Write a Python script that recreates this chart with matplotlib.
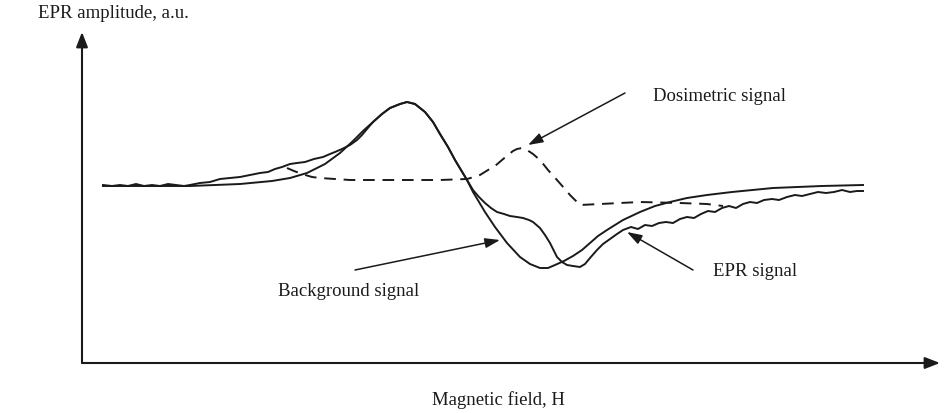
import matplotlib
matplotlib.use("Agg")
import matplotlib.pyplot as plt

# Magnetic field (a.u.) and amplitude (a.u.)
bg_field = [21, 68, 108, 158, 190, 208, 225, 243, 258, 271, 281, 291, 300, 308, 318, 325,
            333, 343, 351, 358, 366, 373, 379, 385, 391, 397, 403, 413, 425, 438, 448, 458,
            466, 473, 482, 491, 500, 508, 516, 525, 541, 558, 573, 588, 605, 625, 650, 691,
            740, 781]
bg_amp = [177, 177, 177, 179, 182, 185, 190, 199, 210, 222, 232, 241, 249, 255, 259, 261,
          259, 251, 241, 229, 216, 203, 193, 183, 171, 161, 151, 136, 120, 106, 99, 95,
          95, 98, 102, 107, 113, 120, 127, 133, 143, 151, 157, 161, 165, 168, 171, 175,
          177, 178]

epr_field = [21, 30, 38, 46, 54, 62, 70, 78, 86, 94, 102, 108, 118, 128, 138, 148, 158, 168,
             178, 186, 193, 200, 208, 215, 223, 232, 241, 248, 253, 260, 268, 275, 280, 285,
             291, 300, 308, 318, 325, 333, 343, 351, 358, 366, 373, 379, 385, 391, 397, 403,
             409, 415, 422, 428, 435, 441, 447, 451, 458, 463, 468, 472, 475, 480, 485, 491,
             498, 503, 508, 515, 521, 528, 535, 541, 549, 556, 563, 570, 577, 584, 591, 598,
             605, 612, 619, 626, 633, 640, 647, 654, 661, 668, 675, 682, 690, 697, 705, 713,
             720, 728, 736, 744, 752, 760, 768, 775, 781]
epr_amp = [178, 177, 178, 177, 179, 177, 178, 177, 179, 178, 177, 178, 180, 181, 184, 185,
           186, 188, 190, 191, 194, 196, 199, 200, 201, 204, 206, 209, 211, 214, 218, 223,
           228, 234, 241, 249, 255, 259, 261, 259, 251, 241, 229, 216, 203, 193, 183, 173,
           166, 160, 155, 151, 149, 147, 146, 145, 143, 141, 135, 128, 120, 112, 106, 101,
           98, 97, 96, 99, 105, 113, 119, 124, 129, 133, 136, 134, 138, 137, 140, 141, 140,
           144, 146, 145, 149, 152, 151, 155, 157, 155, 159, 161, 160, 163, 164, 163, 166,
           168, 167, 169, 171, 170, 171, 173, 171, 172, 172]

dos_field = [205, 212, 220, 230, 238, 268, 318, 358, 385, 392, 398, 406, 413, 420, 426, 431,
             435, 440, 445, 451, 458, 466, 475, 482, 488, 494, 498, 518, 558, 598, 625, 641]
dos_amp = [195, 192, 189, 186, 185, 183, 183, 183, 184, 186, 188, 193, 197, 203, 208, 212,
           214, 215, 213, 209, 203, 193, 183, 175, 168, 162, 158, 159, 161, 160, 159, 157]

plt.rcParams['font.family'] = ['Liberation Serif', 'DejaVu Serif']

fig = plt.figure(figsize=(9.48, 4.13), dpi=100)
ax = fig.add_axes([82 / 948, 50 / 413, 858 / 948, 331 / 413])
ax.set_xlim(0, 858)
ax.set_ylim(0, 331)
for s in ax.spines.values():
    s.set_visible(False)
ax.set_xticks([])
ax.set_yticks([])

ink = '#1a1a1a'
ax.plot(bg_field, bg_amp, color=ink, lw=1.4, solid_joinstyle='round')
ax.plot(epr_field, epr_amp, color=ink, lw=1.4, solid_joinstyle='round')
ax.plot(dos_field, dos_amp, color=ink, lw=1.4, dashes=(6, 4))

# axis arrows
arrow_kw = dict(arrowstyle='-|>,head_length=0.9,head_width=0.35', color=ink, lw=1.5,
                shrinkA=0, shrinkB=0)
ax.annotate('', xy=(1.0, 0.0), xytext=(0.0, 0.0), xycoords='axes fraction',
            arrowprops=arrow_kw, annotation_clip=False)
ax.annotate('', xy=(0.0, 1.0), xytext=(0.0, 0.0), xycoords='axes fraction',
            arrowprops=arrow_kw, annotation_clip=False)

lab_kw = dict(arrowstyle='-|>,head_length=0.9,head_width=0.3', color=ink, lw=1.1,
              shrinkA=0, shrinkB=0)
ax.annotate('', xy=(446, 218), xytext=(543, 270), arrowprops=lab_kw)
ax.annotate('', xy=(418, 123), xytext=(273, 93), arrowprops=lab_kw)
ax.annotate('', xy=(545, 131), xytext=(611, 93), arrowprops=lab_kw)

fs = 13.5
ax.text(571, 266, 'Dosimetric signal', fontsize=fs, ha='left', va='center', color=ink)
ax.text(267, 71, 'Background signal', fontsize=fs, ha='center', va='center', color=ink)
ax.text(631, 91, 'EPR signal', fontsize=fs, ha='left', va='center', color=ink)

fig.text(113 / 948, 1 - 14 / 413, 'EPR amplitude, a.u.', fontsize=fs, ha='center',
         va='center', color=ink)
fig.text(498 / 948, 1 - 400 / 413, 'Magnetic field, H', fontsize=fs, ha='center',
         va='center', color=ink)

fig.savefig('out.png', dpi=100)
